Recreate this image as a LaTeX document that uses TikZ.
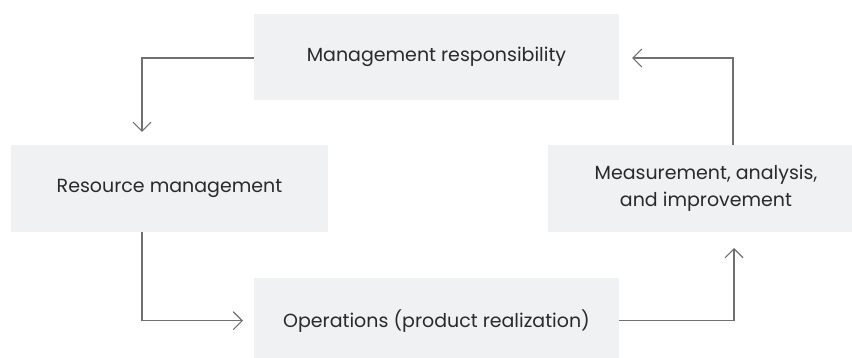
\documentclass[tikz,border=0pt]{standalone}
\usepackage{fontspec}
\setmainfont{Poppins}
\usetikzlibrary{arrows.meta}
\definecolor{boxfill}{HTML}{F0F1F3}
\definecolor{linegray}{HTML}{707070}
\definecolor{txt}{HTML}{2A2A2A}
\begin{document}
\begin{tikzpicture}[x=1pt,y=-1pt,
  stagebox/.style={fill=boxfill, draw=none, inner sep=0pt, align=center,
    text=txt, font=\fontsize{19}{27}\selectfont},
  flow/.style={draw=linegray, line width=1.1pt, -{Straight Barb[length=9pt,width=18pt,line width=1.1pt]}}]
\useasboundingbox (0,0) rectangle (852,358);
\node[stagebox, minimum width=365pt, minimum height=86pt] (T) at (436.5,57) {Management responsibility};
\node[stagebox, minimum width=317pt, minimum height=87pt] (L) at (169.5,188.5) {Resource management};
\node[stagebox, minimum width=316pt, minimum height=87pt] (R) at (706,188.5) {Measurement, analysis,\\and improvement};
\node[stagebox, minimum width=365pt, minimum height=86pt] (B) at (436.5,321.5) {Operations (product realization)};
\coordinate (a1) at (142,132);
\coordinate (a2s) at (142,232);
\coordinate (a2) at (243,320.7);
\coordinate (a3) at (734,248);
\coordinate (a4s) at (733,145);
\coordinate (a4) at (632,58);
\draw[flow] (T.west |- 0,58) -| (a1);
\draw[flow] (a2s) |- (a2);
\draw[flow] (B.east |- 0,320.7) -| (a3);
\draw[flow] (a4s) |- (a4);
\end{tikzpicture}
\end{document}
